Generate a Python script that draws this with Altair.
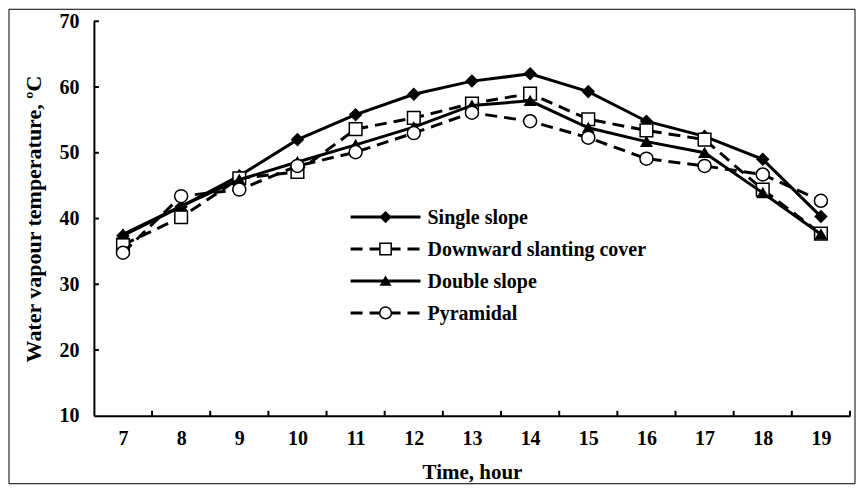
import altair as alt
import pandas as pd

hours = [7, 8, 9, 10, 11, 12, 13, 14, 15, 16, 17, 18, 19]
single_slope = [37.4, 41.8, 46.5, 52.0, 55.8, 58.9, 60.9, 62.0, 59.3, 54.8, 52.5, 49.0, 40.3]
downward = [36.0, 40.2, 46.1, 47.1, 53.6, 55.3, 57.5, 59.0, 55.1, 53.4, 52.0, 44.4, 37.7]
double_slope = [37.6, 41.9, 45.9, 48.6, 51.2, 53.9, 57.2, 57.9, 53.8, 51.7, 50.0, 43.9, 37.6]
pyramidal = [34.8, 43.4, 44.4, 48.0, 50.1, 53.0, 56.1, 54.8, 52.3, 49.1, 48.0, 46.7, 42.7]

series_names = ["Single slope", "Downward slanting cover", "Double slope", "Pyramidal"]
series_values = [single_slope, downward, double_slope, pyramidal]
shapes = ["diamond", "square", "triangle-up", "circle"]
filled = [True, False, True, False]
dashed = [False, True, False, True]
sizes = [130, 160, 110, 170]

y_ticks = [10, 20, 30, 40, 50, 60, 70]
x_bounds = [7.5, 8.5, 9.5, 10.5, 11.5, 12.5, 13.5, 14.5, 15.5, 16.5, 17.5, 18.5, 19.5]

W, H = 757, 395
FONT = "Liberation Serif"
FS = 20
DASH = [12, 7]

xscale = alt.Scale(domain=[6.5, 19.5], nice=False, zero=False)
yscale = alt.Scale(domain=[10, 70], nice=False, zero=False)

xaxis = alt.Axis(values=hours, format="d", grid=False, ticks=False, tickSize=0,
                 domainColor="black", domainWidth=2, labelFont=FONT,
                 labelFontWeight="bold", labelFontSize=FS, labelColor="black",
                 labelPadding=13, title="Time, hour", titleFont=FONT,
                 titleFontWeight="bold", titleFontSize=21, titleColor="black",
                 titlePadding=13)
yaxis = alt.Axis(values=y_ticks, format="d", grid=False, ticks=False, tickSize=0,
                 domainColor="black", domainWidth=2, labelFont=FONT,
                 labelFontWeight="bold", labelFontSize=FS, labelColor="black",
                 labelPadding=15, title="Water vapour temperature, ºC",
                 titleFont=FONT, titleFontWeight="bold", titleFontSize=22,
                 titleColor="black", titlePadding=13)

layers = []

# outer chart border
border = alt.Chart(pd.DataFrame({"a": [0]})).mark_rect(
    fillOpacity=0, stroke="black", strokeWidth=1
).encode(x=alt.value(-85), x2=alt.value(762), y=alt.value(-12), y2=alt.value(463))
layers.append(border)

# inward ticks
xt = alt.Chart(pd.DataFrame({"b": x_bounds})).mark_rule(color="black", strokeWidth=2).encode(
    x=alt.X("b:Q", scale=xscale, axis=xaxis), y=alt.value(H), y2=alt.value(H - 5))
yt = alt.Chart(pd.DataFrame({"t": y_ticks[1:]})).mark_rule(color="black", strokeWidth=2).encode(
    y=alt.Y("t:Q", scale=yscale, axis=yaxis), x=alt.value(0), x2=alt.value(5))
layers += [xt, yt]

for name, vals, shp, fl, dsh, sz in zip(series_names, series_values, shapes, filled, dashed, sizes):
    df = pd.DataFrame({"hour": hours, "temp": vals})
    line_kwargs = dict(color="black", strokeWidth=3)
    if dsh:
        line_kwargs["strokeDash"] = DASH
    enc = dict(x=alt.X("hour:Q", scale=xscale, axis=xaxis),
               y=alt.Y("temp:Q", scale=yscale, axis=yaxis))
    line = alt.Chart(df).mark_line(**line_kwargs).encode(**enc)
    pts = alt.Chart(df).mark_point(
        shape=shp, filled=True, fill="black" if fl else "white", stroke="black",
        strokeWidth=1.5, size=sz, opacity=1
    ).encode(**enc)
    layers += [line, pts]

# legend
legend_rows = [196, 228, 260, 292]
for name, shp, fl, dsh, sz, ry in zip(series_names, shapes, filled, dashed, sizes, legend_rows):
    one = pd.DataFrame({"a": [0]})
    lk = dict(color="black", strokeWidth=3)
    if dsh:
        lk["strokeDash"] = DASH
    lr = alt.Chart(one).mark_rule(**lk).encode(
        x=alt.value(257), x2=alt.value(327), y=alt.value(ry))
    lp = alt.Chart(one).mark_point(
        shape=shp, filled=True, fill="black" if fl else "white", stroke="black",
        strokeWidth=1.5, size=sz * 0.8, opacity=1).encode(x=alt.value(292), y=alt.value(ry))
    lt = alt.Chart(one).mark_text(
        align="left", baseline="middle", font=FONT, fontWeight="bold", fontSize=FS,
        color="black", text=name).encode(x=alt.value(334), y=alt.value(ry + 1))
    layers += [lr, lp, lt]

chart = alt.layer(*layers).properties(width=W, height=H, padding=0).configure_view(stroke=None)

chart.save("out.html", embed_options={"renderer": "svg", "actions": False})
